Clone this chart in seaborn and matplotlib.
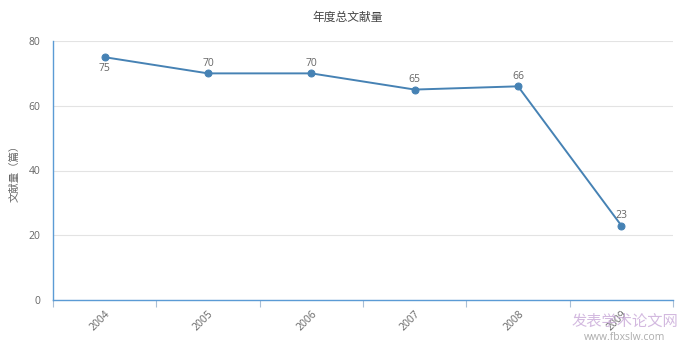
import numpy as np
import pandas as pd
import matplotlib
matplotlib.use('Agg')
import matplotlib.pyplot as plt
import seaborn as sns

# 年度总文献量 데이터
years = ['2004', '2005', '2006', '2007', '2008', '2009']
counts = [75, 70, 70, 65, 66, 23]

df = pd.DataFrame({'year': years, 'count': counts})
df['pos'] = np.arange(len(years))

sns.set_style('white')
plt.rcParams['font.family'] = ['Open Sans', 'Noto Sans CJK SC', 'DejaVu Sans']

fig = plt.figure(figsize=(6.88, 3.51), dpi=100)
ax = fig.add_axes([53/688, 1-300/351, 620/688, 259/351])

line_c = '#4682b4'
axis_c = '#5b9bd5'
txt_c = '#666666'
sns.lineplot(data=df, x='pos', y='count', ax=ax, color=line_c, linewidth=1.4,
             marker='o', markersize=5, markeredgecolor=line_c, markerfacecolor=line_c)

# 값 라벨 (첫 번째는 점 아래)
for i, v in enumerate(counts):
    if i == 0:
        ax.annotate(str(v), (i, v), xytext=(0, -4), textcoords='offset points',
                    ha='center', va='top', fontsize=7.5, color=txt_c)
    else:
        ax.annotate(str(v), (i, v), xytext=(0, 3), textcoords='offset points',
                    ha='center', va='bottom', fontsize=7.5, color=txt_c)

ax.set_xlim(-0.5, len(years) - 0.5)
ax.set_ylim(0, 80)
ax.set_yticks([0, 20, 40, 60, 80])
ax.set_xticks(df['pos'])
ax.set_xticklabels(years, rotation=45, fontsize=7.5, color=txt_c)
ax.set_xticks(np.arange(-0.5, len(years)), minor=True)
ax.tick_params(axis='x', which='major', length=0, pad=6)
ax.tick_params(axis='x', which='minor', bottom=True, length=5, color='#a9bfd6', width=0.8)
ax.tick_params(axis='y', length=0, labelsize=7.5, labelcolor=txt_c, pad=9)
for lab in ax.get_xticklabels():
    lab.set_ha('right')
    lab.set_rotation_mode('anchor')

ax.grid(axis='y', color='#e3e3e3', linewidth=0.8)
ax.grid(axis='x', visible=False)
for s in ['top', 'right']:
    ax.spines[s].set_visible(False)
ax.spines['left'].set_color(axis_c)
ax.spines['bottom'].set_color(axis_c)
ax.spines['left'].set_linewidth(1)
ax.spines['bottom'].set_linewidth(1)

ax.set_xlabel('')
ax.set_ylabel('文献量（篇）', fontsize=7.5, color=txt_c, labelpad=6)
fig.text(348/688, 1-17/351, '年度总文献量', ha='center', va='center',
         fontsize=8.5, color='#444444')

# 워터마크
fig.text(625/688, 1-322/351, '发表学术论文网', ha='center', va='center',
         fontsize=11, color='#c8a8d8', alpha=0.8)
fig.text(625/688, 1-338/351, 'www.fbxslw.com', ha='center', va='center',
         fontsize=7.5, color='#999999', alpha=0.8)

fig.savefig('out.png', dpi=100)
